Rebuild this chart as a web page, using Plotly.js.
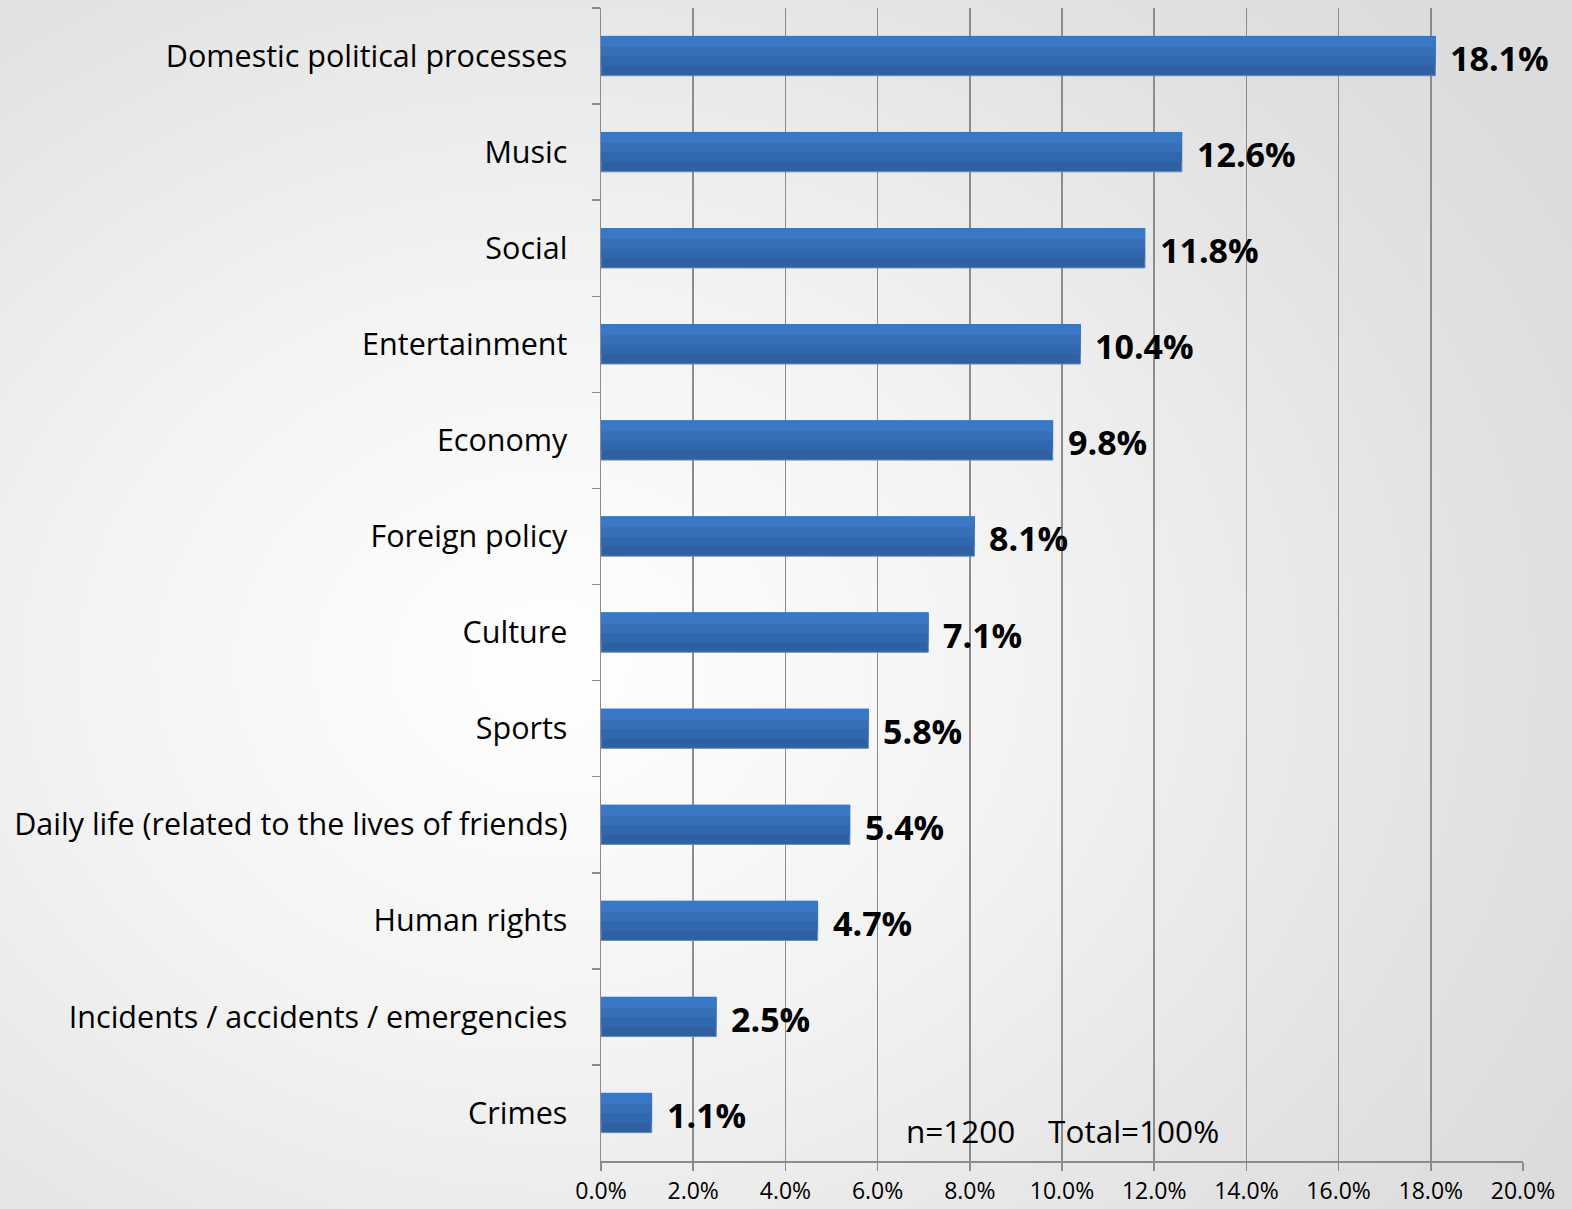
<!DOCTYPE html>
<html>
<head>
<meta charset="utf-8">
<script src="https://cdn.plot.ly/plotly-3.0.1.min.js"></script>
<style>
html,body{margin:0;padding:0;}
body{width:1572px;height:1209px;overflow:hidden;
background:radial-gradient(ellipse 75% 80% at 35% 55%, #ffffff 0%, #f3f3f3 40%, #e2e2e2 80%, #dcdcdc 100%);}
#chart{width:1572px;height:1209px;}
</style>
</head>
<body>
<div id="chart"></div>
<script>
const categories = [
  "Domestic political processes",
  "Music",
  "Social",
  "Entertainment",
  "Economy",
  "Foreign policy",
  "Culture",
  "Sports",
  "Daily life (related to the lives of friends)",
  "Human rights",
  "Incidents / accidents / emergencies",
  "Crimes"
];
const values = [18.1, 12.6, 11.8, 10.4, 9.8, 8.1, 7.1, 5.8, 5.4, 4.7, 2.5, 1.1];
const valueLabels = values.map(v => v.toFixed(1) + "%");
const tickVals = [0, 2, 4, 6, 8, 10, 12, 14, 16, 18, 20];
const tickText = tickVals.map(v => v.toFixed(1) + "%");
const noteText = "n=1200&nbsp;&nbsp;&nbsp;&nbsp;Total=100%";

const FONT = "'Open Sans', 'Noto Sans', sans-serif";

// bar drawn as a full darker bar plus lighter bands from the top, to suggest the vertical gradient
const bands = [
  {width: 0.41, offset: -0.205, color: "#2f60a2", line: {color: "#5a8fd0", width: 1}},
  {width: 0.31, offset: -0.205, color: "#3367ad", line: {width: 0}},
  {width: 0.21, offset: -0.205, color: "#376fb9", line: {width: 0}},
  {width: 0.11, offset: -0.205, color: "#3a78c5", line: {width: 0}}
];
const traces = bands.map(b => ({
  type: "bar", orientation: "h",
  x: values, y: categories,
  width: b.width, offset: b.offset,
  marker: {color: b.color, line: b.line},
  hoverinfo: "none"
}));

const annotations = values.map((v, i) => ({
  x: v, y: categories[i], xref: "x", yref: "y",
  text: "<b>" + valueLabels[i] + "</b>",
  showarrow: false, xanchor: "left", yanchor: "middle",
  xshift: 13, yshift: -2,
  font: {family: FONT, size: 34, color: "#000"}
}));
annotations.push({
  x: 10, y: categories[categories.length - 1], xref: "x", yref: "y",
  text: noteText, showarrow: false, xanchor: "center", yanchor: "middle",
  yshift: -18,
  font: {family: FONT, size: 31.5, color: "#000"}
});

const layout = {
  width: 1572, height: 1209,
  paper_bgcolor: "rgba(0,0,0,0)",
  plot_bgcolor: "rgba(0,0,0,0)",
  margin: {l: 601, r: 49, t: 8, b: 48},
  showlegend: false,
  barmode: "overlay",
  xaxis: {
    range: [0, 20],
    tickvals: tickVals, ticktext: tickText,
    showgrid: true, gridcolor: "#8c8c8c", gridwidth: 1.5,
    zeroline: false,
    showline: true, linecolor: "#8c8c8c", linewidth: 1.5,
    ticks: "outside", ticklen: 8, tickcolor: "#8c8c8c", tickwidth: 1.5,
    ticklabelstandoff: 1,
    tickfont: {family: FONT, size: 23, color: "#000"},
    fixedrange: true
  },
  yaxis: {
    autorange: "reversed",
    type: "category",
    showgrid: false, zeroline: false,
    showline: true, linecolor: "#8c8c8c", linewidth: 1.5,
    ticks: "outside", ticklen: 8, tickcolor: "#8c8c8c", tickwidth: 1.5,
    tickson: "boundaries",
    ticklabelstandoff: 26,
    tickfont: {family: FONT, size: 30.5, color: "#000"},
    fixedrange: true
  },
  annotations: annotations
};

Plotly.newPlot("chart", traces, layout, {displayModeBar: false, staticPlot: true});
</script>
</body>
</html>
